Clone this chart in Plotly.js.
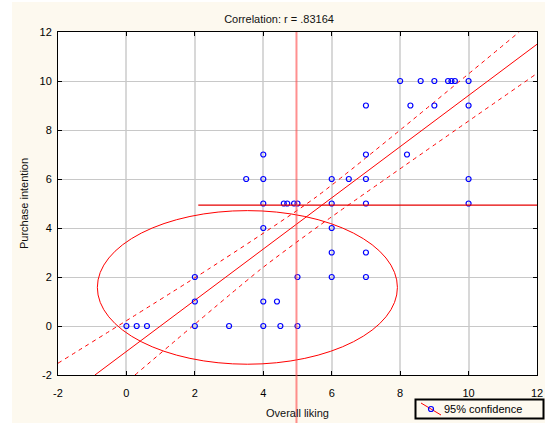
<!DOCTYPE html>
<html><head><meta charset="utf-8">
<script src="https://cdn.plot.ly/plotly-3.0.1.min.js"></script>
<style>
html,body{margin:0;padding:0;background:#fff;width:545px;height:423px;overflow:hidden}
#chart{position:absolute;left:12px;top:2px;width:533px;height:421px}
</style>
</head><body><div id="chart"></div>
<script>
// Observations: overall liking (x) vs purchase intention (y)
const liking = [8, 8.6, 9, 9.4, 9.5, 9.6, 10,
  7, 8.3, 9, 10,
  4, 7, 8.2,
  3.5, 4, 6, 6.5, 7, 10,
  4, 4.6, 4.7, 4.9, 5, 6, 7, 10,
  4, 6,
  6, 7,
  2, 5, 6, 7,
  2, 4, 4.4,
  0, 0.3, 0.6, 2, 3, 4, 4.5, 5];
const intention = [10, 10, 10, 10, 10, 10, 10,
  9, 9, 9, 9,
  7, 7, 7,
  6, 6, 6, 6, 6, 6,
  5, 5, 5, 5, 5, 5, 5, 5,
  4, 4,
  3, 3,
  2, 2, 2, 2,
  1, 1, 1,
  0, 0, 0, 0, 0, 0, 0, 0];

// Regression line and 95% confidence band
const fitX = [-0.92, 12];
const fitY = [-2, 11.5];
const upperX = [-2, 2.44, 5.56, 11.48];
const upperY = [-1.52, 2.36, 5.28, 12];
const lowerX = [0.25, 3.90, 5.66, 12];
const lowerY = [-2, 2.29, 4.12, 10.31];

// Ellipse bounds and reference lines
const ellipseX = [-0.85, 7.92];
const ellipseY = [-1.56, 4.71];
const meanLiking = 4.97;
const meanIntention = 4.93;
const hLineStart = 2.10;

const ticks = [-2, 0, 2, 4, 6, 8, 10, 12];
const tickText = ticks.map(String);
const legendLabel = '95% confidence';

const FONT = 'Arial, "Liberation Sans", sans-serif';
const CREAM = '#fdf9ef';
const RED = '#ff0000';

// plot area in pixels (page coords) for placing the legend box
const PL = 58, PR = 537, PT = 32, PB = 375;
const px = v => (v - PL) / (PR - PL);
const py = v => (PB - v) / (PB - PT);

const traces = [
  {x: upperX, y: upperY, mode: 'lines', line: {color: RED, width: 1, dash: '4px,4px', shape: 'spline', smoothing: 0.6}, showlegend: false, hoverinfo: 'skip'},
  {x: lowerX, y: lowerY, mode: 'lines', line: {color: RED, width: 1, dash: '4px,4px', shape: 'spline', smoothing: 0.6}, showlegend: false, hoverinfo: 'skip'},
  {x: fitX, y: fitY, mode: 'lines', line: {color: RED, width: 1}, showlegend: false, hoverinfo: 'skip'},
  {x: liking, y: intention, mode: 'markers', name: legendLabel, marker: {symbol: 'circle-open', size: 5, color: '#0000ff', line: {width: 1.2}}, showlegend: false}
];

const axisCommon = {
  range: [-2, 12], tickvals: ticks, ticktext: tickText,
  ticks: 'inside', ticklen: 4, tickcolor: '#000', tickwidth: 1,
  showline: true, linecolor: '#000', linewidth: 1, mirror: 'ticks',
  zeroline: false, fixedrange: true, automargin: false,
  tickfont: {family: FONT, size: 11, color: '#000'}
};

const layout = {
  width: 533, height: 421,
  paper_bgcolor: CREAM, plot_bgcolor: '#fff',
  margin: {l: 46, r: 8, t: 30, b: 48, pad: 0, autoexpand: false},
  font: {family: FONT, size: 11, color: '#000'},
  showlegend: false,
  title: {text: 'Correlation: r = .83164', font: {family: FONT, size: 11, color: '#111'},
          x: 0.501, xref: 'container', xanchor: 'center', y: 0.9596, yref: 'container', yanchor: 'middle'},
  xaxis: Object.assign({}, axisCommon, {
    gridcolor: '#d8d8d8', gridwidth: 2, ticklabelstandoff: 8,
    title: {text: 'Overall liking', font: {family: FONT, size: 11, color: '#111'}, standoff: 11}
  }),
  yaxis: Object.assign({}, axisCommon, {
    gridcolor: '#c8c8c8', gridwidth: 1, ticklabelstandoff: 3,
    title: {text: 'Purchase intention', font: {family: FONT, size: 11, color: '#111'}, standoff: 8}
  }),
  annotations: [
    {text: legendLabel, xref: 'paper', yref: 'paper', x: px(442), y: py(409), xanchor: 'left', yanchor: 'middle',
     showarrow: false, font: {family: FONT, size: 11, color: '#000'}}
  ],
  shapes: [
    {type: 'circle', xref: 'x', yref: 'y', x0: ellipseX[0], x1: ellipseX[1], y0: ellipseY[0], y1: ellipseY[1],
     line: {color: RED, width: 1}, layer: 'above'},
    {type: 'line', xref: 'x', yref: 'y', x0: hLineStart, x1: 12, y0: meanIntention, y1: meanIntention,
     line: {color: '#e60000', width: 1.2}, layer: 'above'},
    {type: 'line', xref: 'x', yref: 'paper', x0: meanLiking, x1: meanLiking, y0: -48/343, y1: 1,
     line: {color: 'rgba(255,70,70,0.6)', width: 2}, layer: 'above'},
    // legend box
    {type: 'rect', xref: 'paper', yref: 'paper', x0: px(415.5), x1: px(543.5), y0: py(418.5), y1: py(399.5),
     line: {color: '#000', width: 2}, fillcolor: CREAM, layer: 'above'},
    {type: 'line', xref: 'paper', yref: 'paper', x0: px(421), x1: px(441), y0: py(403), y1: py(415),
     line: {color: RED, width: 1}, layer: 'above'},
    {type: 'circle', xref: 'paper', yref: 'paper', x0: px(428.5), x1: px(433.5), y0: py(411.5), y1: py(406.5),
     line: {color: '#0000ff', width: 1.2}, fillcolor: 'rgba(0,0,0,0)', layer: 'above'}
  ]
};

Plotly.newPlot('chart', traces, layout, {displayModeBar: false, staticPlot: true});
</script>
</body></html>
